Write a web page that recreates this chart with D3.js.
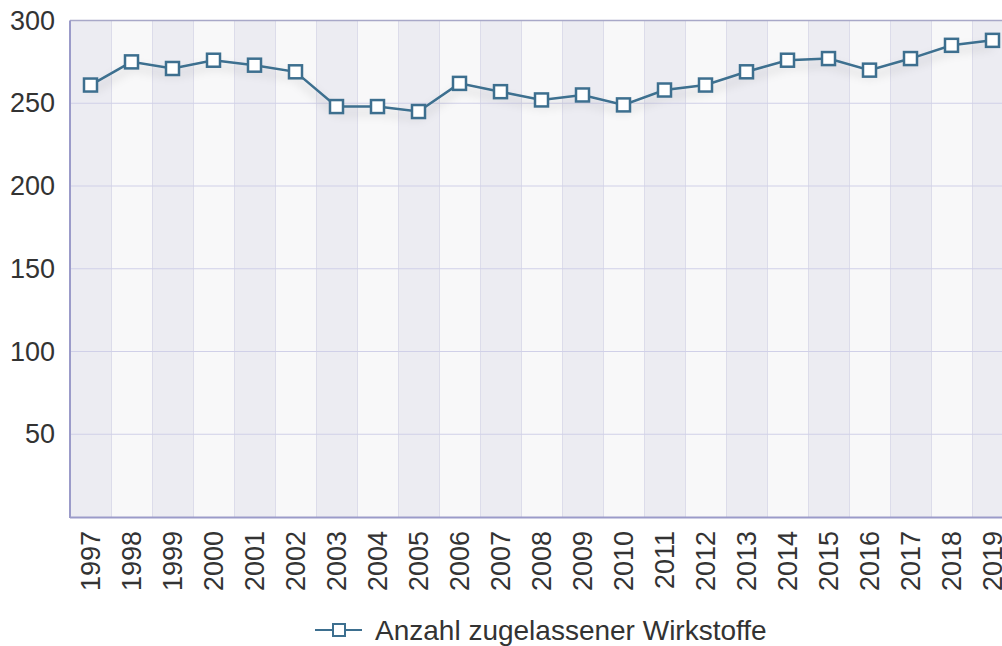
<!DOCTYPE html>
<html><head><meta charset="utf-8">
<script src="https://cdn.jsdelivr.net/npm/d3@7"></script>
<style>
html,body{margin:0;padding:0;background:#fff;overflow:hidden}
text{font-family:"Liberation Sans",Arial,Helvetica,sans-serif;fill:#333}
</style></head><body>
<svg id="chart" width="1002" height="646"></svg>
<script>
const years = ["1997","1998","1999","2000","2001","2002","2003","2004","2005","2006","2007","2008","2009","2010","2011","2012","2013","2014","2015","2016","2017","2018","2019"];
const values = [261,275,271,276,273,269,248,248,245,262,257,252,255,249,258,261,269,276,277,270,277,285,288];
const yTicks = [50,100,150,200,250,300];
const seriesName = "Anzahl zugelassener Wirkstoffe";

(function(){
const svg = d3.select("#chart");
const pLeft = 70, pRight = 1013, pTop = 20.5, pBottom = 517;
const x = d3.scaleBand().domain(years).range([pLeft, pRight]).padding(0);
const y = d3.scaleLinear().domain([0,300]).range([pBottom, pTop]);
const lineColor = "#3d6f8f";

const defs = svg.append("defs");
const f = defs.append("filter").attr("id","shadow").attr("x","-10%").attr("y","-50%").attr("width","120%").attr("height","250%");
f.append("feDropShadow").attr("dx",0).attr("dy",6).attr("stdDeviation",5).attr("flood-color","#000").attr("flood-opacity",0.2);

svg.append("g").selectAll("rect").data(years).join("rect")
  .attr("x", d => x(d)).attr("y", pTop).attr("width", x.bandwidth()).attr("height", pBottom - pTop)
  .attr("fill", (d,i) => i % 2 === 0 ? "#ececf2" : "#f8f8f9");
svg.append("g").selectAll("line").data(years.slice(1)).join("line")
  .attr("x1", d => x(d)+0.5).attr("x2", d => x(d)+0.5).attr("y1", pTop).attr("y2", pBottom)
  .attr("stroke", "#dcdcea").attr("stroke-width", 1);
svg.append("g").selectAll("line").data(yTicks).join("line")
  .attr("x1", pLeft).attr("x2", pRight).attr("y1", d => y(d)).attr("y2", d => y(d))
  .attr("stroke", d => d === 300 ? "#a8a8c8" : "#d0d0e8").attr("stroke-width", d => d === 300 ? 1.5 : 1);

svg.append("line").attr("x1", pLeft).attr("x2", pLeft).attr("y1", pTop).attr("y2", pBottom+1)
  .attr("stroke", "#9b9bc9").attr("stroke-width", 2);
svg.append("line").attr("x1", pLeft).attr("x2", pRight).attr("y1", pBottom+0.5).attr("y2", pBottom+0.5)
  .attr("stroke", "#9b9bc9").attr("stroke-width", 2);

const yAxis = d3.axisLeft(y).tickValues(yTicks).tickSize(0).tickPadding(15);
const gy = svg.append("g").attr("transform", `translate(${pLeft},0)`).call(yAxis);
gy.select(".domain").remove();
gy.selectAll("text").style("font-size","27px").style("fill","#333").attr("font-family","Liberation Sans, Arial, sans-serif");

const xAxis = d3.axisBottom(x).tickSize(0).tickPadding(0);
const gx = svg.append("g").attr("transform", `translate(0,${pBottom})`).call(xAxis);
gx.select(".domain").remove();
gx.selectAll("text").style("font-size","27px").style("fill","#333").attr("font-family","Liberation Sans, Arial, sans-serif")
  .attr("text-anchor","end").attr("dy","0.35em").attr("dx",0)
  .attr("transform","translate(0,14) rotate(-90)").attr("x",0).attr("y",0);

const line = d3.line().x((d,i) => x(years[i]) + x.bandwidth()/2).y(d => y(d));
svg.append("path").datum(values).attr("d", line).attr("fill","none")
  .attr("stroke", lineColor).attr("stroke-width", 2.5).attr("filter","url(#shadow)");
const ms = 13;
svg.append("g").selectAll("rect").data(values).join("rect")
  .attr("x", (d,i) => x(years[i]) + x.bandwidth()/2 - ms/2)
  .attr("y", d => y(d) - ms/2)
  .attr("width", ms).attr("height", ms)
  .attr("fill", "#fff").attr("stroke", lineColor).attr("stroke-width", 2.5);

const lg = svg.append("g").attr("transform","translate(315,630)");
lg.append("line").attr("x1",0).attr("x2",47).attr("y1",0).attr("y2",0).attr("stroke",lineColor).attr("stroke-width",2);
lg.append("rect").attr("x",18).attr("y",-6).attr("width",12).attr("height",12).attr("fill","#fff").attr("stroke",lineColor).attr("stroke-width",2);
lg.append("text").attr("x",60).attr("y",0).attr("dy","0.35em").style("font-size","28px").text(seriesName);
})();
</script>
</body></html>
